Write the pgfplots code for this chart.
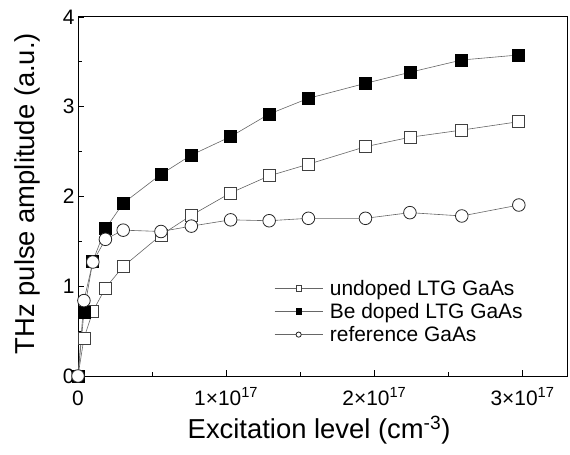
\documentclass[border=0pt]{standalone}
\usepackage{fontspec}
\setmainfont{Liberation Sans}
\usepackage{pgfplots}
\pgfplotsset{compat=1.18}
\pgfplotstableread{
x      undoped  bedoped  ref
0      0        0        0
0.04   0.42     0.71     0.84
0.10   0.72     1.28     1.27
0.185  0.98     1.64     1.523
0.305  1.22     1.925    1.625
0.56   1.57     2.247    1.61
0.765  1.79     2.462    1.67
1.03   2.04     2.667    1.74
1.29   2.23     2.919    1.73
1.555  2.36     3.094    1.757
1.94   2.555    3.261    1.757
2.24   2.66     3.384    1.82
2.59   2.74     3.521    1.783
2.975  2.834    3.577    1.905
}\datatable
\begin{document}
\begin{tikzpicture}
\begin{axis}[
  scale only axis,
  width=489bp, height=359bp,
  xmin=0, xmax=3.30, ymin=0, ymax=4,
  xtick={0,1,2,3},
  xticklabels={0,{1×10\textsuperscript{17}},{2×10\textsuperscript{17}},{3×10\textsuperscript{17}}},
  ytick={0,1,2,3,4},
  minor x tick num=1, minor y tick num=1,
  tick align=inside,
  xtick pos=bottom, ytick pos=left,
  major tick length=6bp, minor tick length=4bp,
  axis line style={line width=1bp},
  every tick/.style={black, line width=0.8bp},
  /pgf/number format/assume math mode=true,
  tick label style={font=\fontsize{21}{25}\selectfont},
  xticklabel style={anchor=base, yshift=-29bp},
  ylabel={THz pulse amplitude (a.u.)},
  xlabel={Excitation level (cm\textsuperscript{-3})},
  label style={font=\fontsize{27.5}{32}\selectfont},
  ylabel style={at={(axis description cs:-0.103,0.508)}, anchor=center},
  xlabel style={at={(axis description cs:0.493,0)}, anchor=base, yshift=-62bp},
  legend style={draw=none, fill=none, font=\fontsize{21}{25}\selectfont,
    at={(axis description cs:0.395,0.279)}, anchor=north west,
    row sep=2.5bp, cells={anchor=west}},
  legend image code/.code={\draw[mark repeat=2,mark phase=2,#1] plot coordinates {(0bp,0bp)(24bp,0bp)(48bp,0bp)};\path (53bp,0bp);},
  legend image post style={mark size=2.6bp},
]
\addplot[gray!80!black, line width=0.6bp, mark=square*, mark size=6bp,
  mark options={fill=white, draw=black!75, line width=0.8bp}]
  table[x=x, y=undoped] {\datatable};
\addlegendentry{undoped LTG GaAs}
\addplot[gray!80!black, line width=0.6bp, mark=square*, mark size=6bp,
  mark options={fill=black, draw=black, line width=0.8bp}]
  table[x=x, y=bedoped] {\datatable};
\addlegendentry{Be doped LTG GaAs}
\addplot[gray!80!black, line width=0.6bp, mark=*, mark size=6.3bp,
  mark options={fill=white, draw=black!85, line width=0.8bp}]
  table[x=x, y=ref] {\datatable};
\addlegendentry{reference GaAs}
\end{axis}
\pgfresetboundingbox
\useasboundingbox (-78bp,-79bp) rectangle (492bp,376bp);
\end{tikzpicture}
\end{document}
